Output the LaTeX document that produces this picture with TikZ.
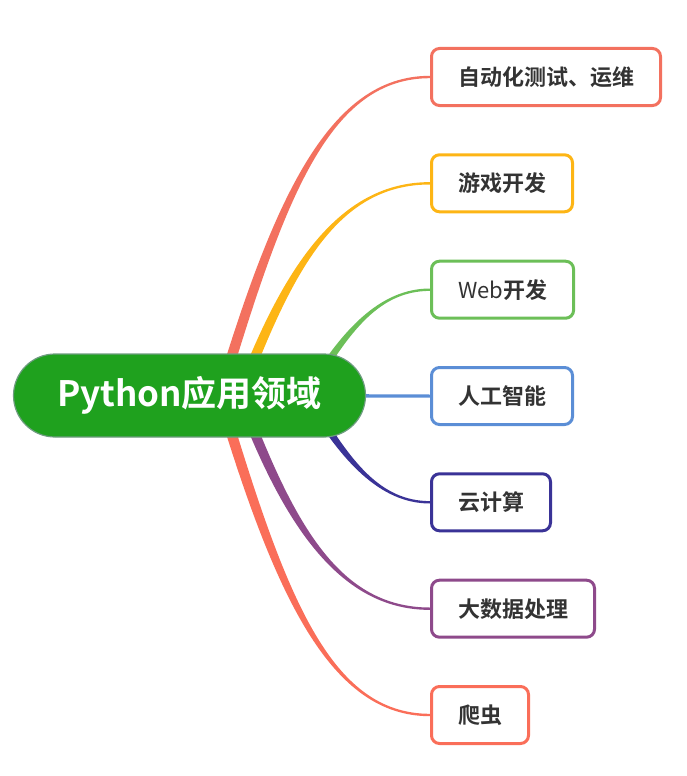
\documentclass[tikz,border=0pt]{standalone}
\usepackage{fontspec}
\usepackage{tikz}
\usepackage{xcolor}
\usetikzlibrary{backgrounds}
\newfontfamily\cjk[BoldFont={Noto Sans CJK SC Bold}]{Noto Sans CJK SC}

\definecolor{c1}{HTML}{F3715F}
\definecolor{c2}{HTML}{FDB515}
\definecolor{c3}{HTML}{6CBF58}
\definecolor{c4}{HTML}{5B8ED6}
\definecolor{c5}{HTML}{3A3397}
\definecolor{c6}{HTML}{8E4A8B}
\definecolor{c7}{HTML}{FA6E59}
\definecolor{rootgreen}{HTML}{1FA11E}
\definecolor{rootline}{HTML}{6E9C80}
\definecolor{textgray}{HTML}{333333}

\begin{document}
\begin{tikzpicture}[x=1pt, y=-1pt,
    root/.style={rectangle, draw=rootline, line width=1.2pt, fill=rootgreen, rounded corners=41.5pt,
        minimum width=352pt, minimum height=83pt, text=white, font=\cjk\bfseries\fontsize{35}{40}\selectfont},
    leaf/.style={rectangle, draw, line width=3pt, fill=white, rounded corners=8pt, anchor=west,
        minimum height=57pt, inner xsep=26.5pt, text=textgray, font=\cjk\bfseries\fontsize{22}{26}\selectfont}]

    \useasboundingbox (0,0) rectangle (686,776);

    \node[root] (root) at (189.5,395.5) {Python应用领域};

    \node[leaf, draw=c1] (auto) at (430,77) {自动化测试、运维};
    \node[leaf, draw=c2] (game) at (430,183.3) {游戏开发};
    \node[leaf, draw=c3] (web) at (430,289.7) {{\mdseries Web}开发};
    \node[leaf, draw=c4] (ai) at (430,396) {人工智能};
    \node[leaf, draw=c5] (cloud) at (430,502.3) {云计算};
    \node[leaf, draw=c6] (data) at (430,608.7) {大数据处理};
    \node[leaf, draw=c7] (spider) at (430,715) {爬虫};

    \begin{scope}[on background layer]
        % tapered branches, thick at the root, thin at the box
        \foreach \leaf/\col/\sx/\sy/\cx/\cy/\d/\w/\ea/\eb in {
            auto/c1/220/395/280/195/100/5.5/1.2/-1.2,
            game/c2/240/395/289/265/90/5.5/1.2/-1.2,
            web/c3/310/390/346/330/50/4.5/1.2/-1.2,
            cloud/c5/310/401/346/461/50/4.5/-1.2/1.2,
            data/c6/240/396/289/526/90/5.5/-1.2/1.2,
            spider/c7/220/396/280/596/100/5.5/-1.2/1.2}
            \fill[\col] ([xshift=-\w pt]\sx,\sy) .. controls ([xshift=-\w pt]\cx,\cy) and ([xshift=-\d pt, yshift=\ea pt]\leaf.west)
                .. ([yshift=\ea pt]\leaf.west) -- ([yshift=\eb pt]\leaf.west)
                .. controls ([xshift=-\d pt, yshift=\eb pt]\leaf.west) and ([xshift=\w pt]\cx,\cy) .. ([xshift=\w pt]\sx,\sy) -- cycle;
        \fill[c4] ([yshift=2pt]root.center) -- ([yshift=1.5pt]ai.west) -- ([yshift=-1.5pt]ai.west) -- ([yshift=-2pt]root.center) -- cycle;
    \end{scope}
\end{tikzpicture}
\end{document}
